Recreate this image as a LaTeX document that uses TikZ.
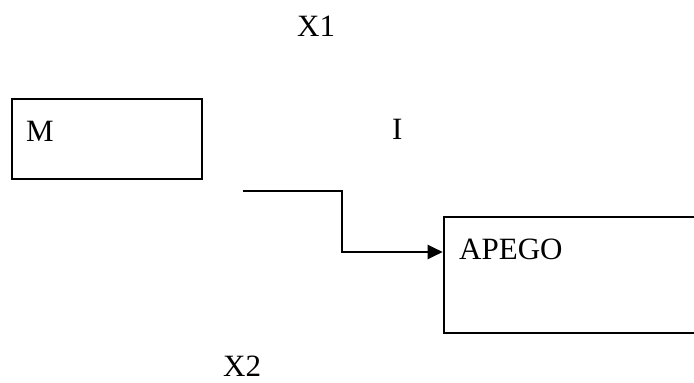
\documentclass[tikz,border=0pt]{standalone}
\usepackage{fontspec}
\setmainfont{Liberation Serif}
\usetikzlibrary{arrows.meta}
\begin{document}
\begin{tikzpicture}[x=1pt,y=-1pt,
  lbl/.style={anchor=base west,inner sep=0pt,font=\fontsize{31}{37}\selectfont},
  box/.style={draw,line width=2pt,inner sep=0pt,anchor=north west},
  conn/.style={line width=2pt,-{Triangle[length=15pt,width=14pt]}}]
\useasboundingbox (0,0) rectangle (694,383);
\clip (0,0) rectangle (694,383);
\node[box,minimum width=190pt,minimum height=80.6pt] (mbox) at (11,97.7) {};
\node[box,minimum width=270pt,minimum height=116.3pt] (apego) at (442.7,215.7) {};
\node[lbl] (x1) at (297,36) {X1};
\node[lbl] (mlbl) at (26,141) {M};
\node[lbl] (ilbl) at (392,139) {I};
\node[lbl] (apegolbl) at (459,259.3) {APEGO};
\node[lbl] (x2) at (223,376) {X2};
\coordinate (s) at (243,190.7);
\coordinate (b1) at (341.7,190.7);
\coordinate (b2) at (341.7,252);
\draw[conn] (s) -- (b1) |- (apego.west |- b2);
\end{tikzpicture}
\end{document}
